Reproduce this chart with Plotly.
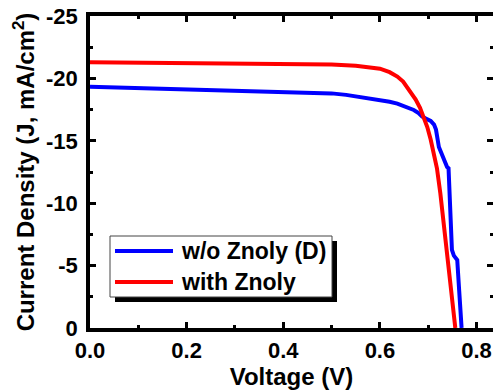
import plotly.graph_objects as go

# ---- data ----
v_without = [0.00, 0.05, 0.10, 0.15, 0.20, 0.25, 0.30, 0.35, 0.40, 0.45, 0.50, 0.53,
             0.56, 0.60, 0.62, 0.636, 0.649, 0.660, 0.670, 0.680, 0.687, 0.695,
             0.705, 0.712, 0.716, 0.722, 0.730, 0.739, 0.742, 0.745, 0.749, 0.753,
             0.760, 0.764, 0.769]
j_without = [-19.33, -19.28, -19.22, -19.17, -19.12, -19.07, -19.02, -18.97, -18.93,
             -18.87, -18.80, -18.68, -18.52, -18.27, -18.13, -17.98, -17.78, -17.64,
             -17.47, -17.22, -16.95, -16.78, -16.60, -16.30, -15.90, -14.50, -13.70,
             -12.90, -12.80, -9.50, -6.25, -5.80, -5.45, -3.00, 0.00]

v_with = [0.00, 0.10, 0.20, 0.30, 0.40, 0.50, 0.55, 0.58, 0.60, 0.62, 0.636, 0.648,
          0.656, 0.665, 0.674, 0.683, 0.691, 0.698, 0.705, 0.712, 0.718, 0.725,
          0.736, 0.746, 0.756]
j_with = [-21.30, -21.28, -21.26, -21.24, -21.20, -21.12, -21.02, -20.90, -20.78,
          -20.50, -20.15, -19.75, -19.30, -18.85, -18.30, -17.65, -16.90, -16.10,
          -15.10, -14.00, -12.80, -10.80, -6.80, -3.40, 0.00]

name_without = "w/o Znoly (D)"
name_with = "with Znoly"

x_tick_vals = [0.0, 0.2, 0.4, 0.6, 0.8]
x_tick_text = ["0.0", "0.2", "0.4", "0.6", "0.8"]
y_tick_vals = [-25, -20, -15, -10, -5, 0]
y_tick_text = ["-25", "-20", "-15", "-10", "-5", "0"]

x_title = "Voltage (V)"
y_title = "Current Density (J, mA/cm<sup>2</sup>)"

# ---- layout geometry ----
W, H = 493, 391
L, R, T, B = 90, 493, 16, 328   # plot area in pixels
FONT = "Liberation Sans, Arial, sans-serif"
Y_RANGE = [0, -25]


def px(x):
    return (x - L) / (R - L)


def py(y):
    return (B - y) / (B - T)


fig = go.Figure()
fig.add_trace(go.Scatter(x=v_without, y=j_without, mode="lines", name=name_without,
                         line=dict(color="#0000FF", width=4), showlegend=False))
fig.add_trace(go.Scatter(x=v_with, y=j_with, mode="lines", name=name_with,
                         line=dict(color="#FF0000", width=4), showlegend=False))
# empty trace so the right-hand tick-only axis is drawn
fig.add_trace(go.Scatter(x=[], y=[], yaxis="y2", showlegend=False, hoverinfo="skip"))

tickfont = dict(family=FONT, size=22, color="black", weight="bold")
titlefont = dict(family=FONT, size=24, color="black", weight="bold")

fig.update_layout(
    width=W, height=H,
    margin=dict(l=L, r=W - R, t=T, b=H - B),
    paper_bgcolor="white", plot_bgcolor="white",
    showlegend=False,
    xaxis=dict(range=[0, 0.834], tickvals=x_tick_vals, ticktext=x_tick_text,
               showgrid=False, zeroline=False, showline=True, linecolor="black",
               linewidth=3.5, ticks="inside", ticklen=6, tickwidth=3, tickcolor="black",
               mirror="ticks", tickfont=tickfont,
               minor=dict(ticks="inside", ticklen=3, tickwidth=3, dtick=0.1,
                          tickcolor="black", showgrid=False),
               title=dict(text=x_title, standoff=6, font=titlefont)),
    yaxis=dict(range=Y_RANGE, tickvals=y_tick_vals, ticktext=y_tick_text,
               showgrid=False, zeroline=False, showline=True, linecolor="black",
               linewidth=3.5, ticks="inside", ticklen=6, tickwidth=3, tickcolor="black",
               mirror=False, tickfont=tickfont, ticklabelstandoff=4,
               minor=dict(ticks="inside", ticklen=3, tickwidth=3, dtick=2.5,
                          tickcolor="black", showgrid=False),
               title=dict(text=y_title, standoff=6, font=titlefont)),
    yaxis2=dict(range=Y_RANGE, overlaying="y", side="right", anchor="x",
                tickvals=y_tick_vals, showticklabels=False,
                showgrid=False, zeroline=False, showline=False,
                ticks="inside", ticklen=6, tickwidth=3, tickcolor="black",
                minor=dict(ticks="inside", ticklen=3, tickwidth=3, dtick=2.5,
                           tickcolor="black", showgrid=False)),
)

# ---- legend box drawn by hand (long line samples, drop shadow) ----
box = (110, 236, 332, 297)
shadow_off = 5
fig.add_shape(type="rect", xref="paper", yref="paper",
              x0=px(box[0] + shadow_off), x1=px(box[2] + shadow_off),
              y0=py(box[3] + shadow_off), y1=py(box[1] + shadow_off),
              fillcolor="black", line=dict(width=0))
fig.add_shape(type="rect", xref="paper", yref="paper",
              x0=px(box[0]), x1=px(box[2]), y0=py(box[3]), y1=py(box[1]),
              fillcolor="white", line=dict(color="#444444", width=1))
for yy, color, label in [(251, "#0000FF", name_without), (282, "#FF0000", name_with)]:
    fig.add_shape(type="line", xref="paper", yref="paper",
                  x0=px(115), x1=px(173), y0=py(yy), y1=py(yy),
                  line=dict(color=color, width=4))
    fig.add_annotation(xref="paper", yref="paper", x=px(179), y=py(yy),
                       xanchor="left", yanchor="middle", showarrow=False,
                       text=label,
                       font=dict(family=FONT, size=23, color="black", weight="bold"))

fig.write_html("out.html")
